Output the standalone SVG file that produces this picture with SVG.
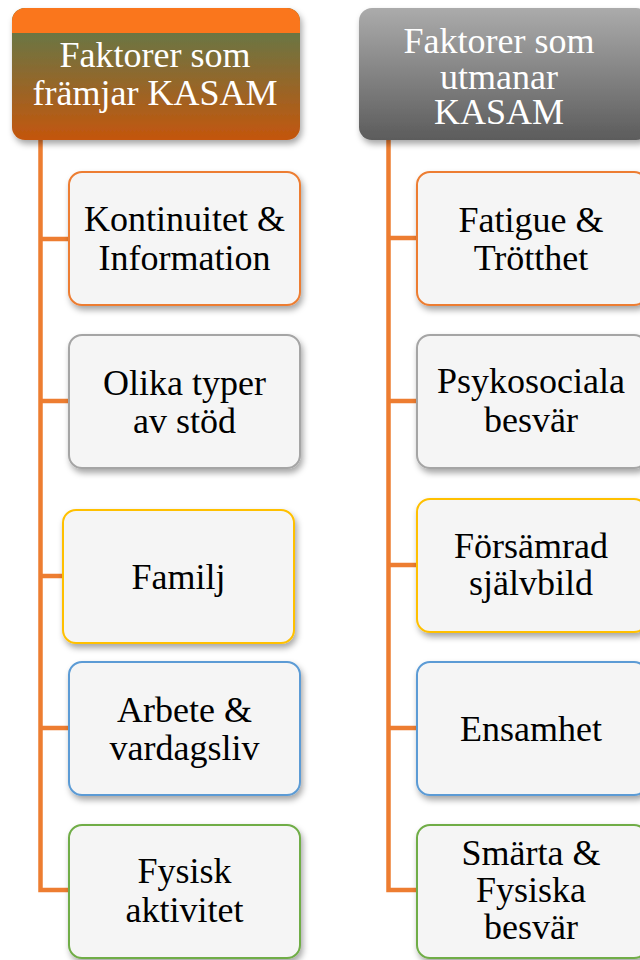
<svg xmlns="http://www.w3.org/2000/svg" width="640" height="960" viewBox="0 0 640 960">
<defs>
<linearGradient id="gL" x1="0" y1="0" x2="0" y2="1">
<stop offset="0" stop-color="#557D50"/>
<stop offset="1" stop-color="#C4560D"/>
</linearGradient>
<linearGradient id="gR" x1="0" y1="0" x2="0" y2="1">
<stop offset="0" stop-color="#ABABAB"/>
<stop offset="1" stop-color="#5C5C5C"/>
</linearGradient>
<clipPath id="cpL"><rect x="12" y="8" width="288" height="132" rx="13"/></clipPath>
<filter id="sh" x="-10%" y="-10%" width="125%" height="130%">
<feDropShadow dx="2" dy="4" stdDeviation="3" flood-color="#000" flood-opacity="0.35"/>
</filter>
</defs>
<style>
.ln{stroke:#ED7D31;stroke-width:4.5;fill:none}
.bx{fill:#F5F5F5;stroke-width:2;filter:url(#sh)}
.t{font-size:36px;fill:#000;text-anchor:middle}
.h{font-size:36px;fill:#fff;text-anchor:middle}
</style>
<rect width="640" height="960" fill="#fff"/>
<g id="connectors">
<path class="ln" d="M40.5 140V890H69"/>
<path class="ln" d="M40.5 239H69M40.5 401H69M40.5 576H63M40.5 728H69"/>
<path class="ln" d="M388.5 140V890H417"/>
<path class="ln" d="M388.5 238H417M388.5 401H417M388.5 565H417M388.5 728H417"/>
</g>
<g font-family="Liberation Serif, Times New Roman, serif">
<g id="headerLeft">
<g filter="url(#sh)">
<g clip-path="url(#cpL)">
<rect x="12" y="8" width="288" height="132" fill="url(#gL)"/>
<rect x="12" y="8" width="288" height="25" fill="#FA761A"/>
</g>
</g>
<text class="h" x="155" y="67">Faktorer som</text>
<text class="h" x="155" y="105">främjar KASAM</text>
</g>
<g id="headerRight">
<rect x="359" y="8" width="290" height="132" rx="13" fill="url(#gR)" filter="url(#sh)"/>
<text class="h" x="499" y="53">Faktorer som</text>
<text class="h" x="499" y="89">utmanar</text>
<text class="h" x="499" y="124">KASAM</text>
</g>
<g id="n1">
<rect class="bx" x="69" y="172" width="231" height="133" rx="13" stroke="#ED7D31"/>
<text class="t" x="184.5" y="231">Kontinuitet &amp;</text>
<text class="t" x="184.5" y="270">Information</text>
</g>
<g id="n2">
<rect class="bx" x="69" y="335" width="231" height="133" rx="13" stroke="#A5A5A5"/>
<text class="t" x="184.5" y="395">Olika typer</text>
<text class="t" x="184.5" y="433">av stöd</text>
</g>
<g id="n3">
<rect class="bx" x="63" y="510" width="231" height="133" rx="13" stroke="#FFC000"/>
<text class="t" x="178.5" y="589">Familj</text>
</g>
<g id="n4">
<rect class="bx" x="69" y="662" width="231" height="133" rx="13" stroke="#5B9BD5"/>
<text class="t" x="184.5" y="722">Arbete &amp;</text>
<text class="t" x="184.5" y="760">vardagsliv</text>
</g>
<g id="n5">
<rect class="bx" x="69" y="825" width="231" height="133" rx="13" stroke="#70AD47"/>
<text class="t" x="184.5" y="883">Fysisk</text>
<text class="t" x="184.5" y="922">aktivitet</text>
</g>
<g id="m1">
<rect class="bx" x="417" y="172" width="230" height="133" rx="13" stroke="#ED7D31"/>
<text class="t" x="531" y="232">Fatigue &amp;</text>
<text class="t" x="531" y="270">Trötthet</text>
</g>
<g id="m2">
<rect class="bx" x="417" y="335" width="230" height="133" rx="13" stroke="#A5A5A5"/>
<text class="t" x="531" y="393">Psykosociala</text>
<text class="t" x="531" y="432">besvär</text>
</g>
<g id="m3">
<rect class="bx" x="417" y="499" width="230" height="133" rx="13" stroke="#FFC000"/>
<text class="t" x="531" y="558">Försämrad</text>
<text class="t" x="531" y="595">självbild</text>
</g>
<g id="m4">
<rect class="bx" x="417" y="662" width="230" height="133" rx="13" stroke="#5B9BD5"/>
<text class="t" x="531" y="741">Ensamhet</text>
</g>
<g id="m5">
<rect class="bx" x="417" y="825" width="230" height="133" rx="13" stroke="#70AD47"/>
<text class="t" x="531" y="865">Smärta &amp;</text>
<text class="t" x="531" y="902">Fysiska</text>
<text class="t" x="531" y="939">besvär</text>
</g>
</g>
</svg>
